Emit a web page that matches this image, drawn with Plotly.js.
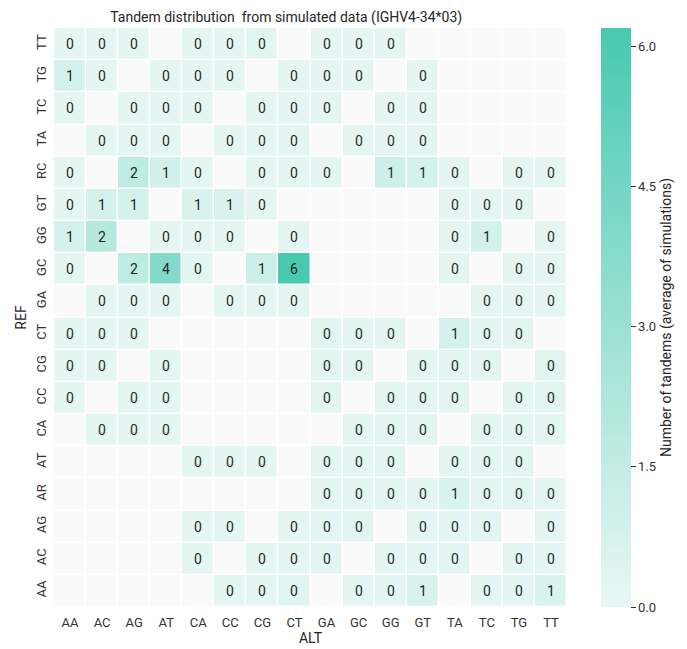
<!DOCTYPE html>
<html>
<head>
<meta charset="utf-8">
<script src="https://cdn.plot.ly/plotly-3.0.1.min.js"></script>
<style>html,body{margin:0;padding:0;background:#fff;}#chart{width:687px;height:649px;}</style>
</head>
<body>
<div id="chart"></div>
<script>
const altCats = ["AA","AC","AG","AT","CA","CC","CG","CT","GA","GC","GG","GT","TA","TC","TG","TT"];
const refCats = ["TT","TG","TC","TA","RC","GT","GG","GC","GA","CT","CG","CC","CA","AT","AR","AG","AC","AA"];
const n = null;
const rowTT = [0.2,0.2,0.2,n,0.2,0.2,0.3,n,0.2,0.2,0.2,n,n,n,n,n];
const rowTG = [0.8,0.2,n,0.2,0.2,0.2,n,0.2,0.2,0.2,n,0.2,n,n,n,n];
const rowTC = [0.2,n,0.2,0.2,0.2,n,0.2,0.2,0.2,n,0.2,0.2,n,n,n,n];
const rowTA = [n,0.2,0.2,0.2,n,0.2,0.2,0.2,n,0.2,0.2,0.2,n,n,n,n];
const rowRC = [0.2,n,1.6,0.9,0.2,n,0.2,0.2,0.2,n,1.1,0.8,0.2,n,0.2,0.2];
const rowGT = [0.2,0.8,0.8,n,0.7,0.7,0.2,n,n,n,n,n,0.2,0.2,0.2,n];
const rowGG = [0.8,2.0,n,0.2,0.2,0.2,n,0.2,n,n,n,n,0.2,0.9,n,0.2];
const rowGC = [0.2,n,1.6,3.9,0.3,n,1.2,6.2,n,n,n,n,0.2,n,0.2,0.2];
const rowGA = [n,0.2,0.2,0.2,n,0.2,0.2,0.2,n,n,n,n,n,0.2,0.2,0.2];
const rowCT = [0.2,0.2,0.2,n,n,n,n,n,0.3,0.2,0.2,n,0.8,0.2,0.2,n];
const rowCG = [0.2,0.2,n,0.2,n,n,n,n,0.3,0.2,n,0.2,0.2,0.2,n,0.3];
const rowCC = [0.2,n,0.2,0.2,n,n,n,n,0.2,n,0.2,0.2,0.2,n,0.2,0.3];
const rowCA = [n,0.2,0.2,0.2,n,n,n,n,n,0.2,0.2,0.2,n,0.2,0.2,0.2];
const rowAT = [n,n,n,n,0.2,0.2,0.2,n,0.2,0.2,0.2,n,0.2,0.2,0.2,n];
const rowAR = [n,n,n,n,n,n,n,n,0.2,0.2,0.2,0.2,0.6,0.2,0.3,0.2];
const rowAG = [n,n,n,n,0.2,0.2,n,0.2,0.2,0.3,n,0.2,0.2,0.2,n,0.2];
const rowAC = [n,n,n,n,0.2,n,0.2,0.2,0.2,n,0.2,0.2,0.2,n,0.2,0.2];
const rowAA = [n,n,n,n,n,0.2,0.2,0.3,n,0.2,0.2,0.7,n,0.2,0.2,0.6];
const cbTicks = [0, 1.5, 3.0, 4.5, 6.0];

const z = [rowTT,rowTG,rowTC,rowTA,rowRC,rowGT,rowGG,rowGC,rowGA,rowCT,rowCG,rowCC,rowCA,rowAT,rowAR,rowAG,rowAC,rowAA];
const txt = z.map(r => r.map(v => v === null ? "" : String(Math.round(v))));
const bg = refCats.map(() => altCats.map(() => 1));

const font = "Roboto, 'Open Sans', sans-serif";
const traces = [
  {type:"heatmap", x:altCats, y:refCats, z:bg, colorscale:[[0,"#fafafa"],[1,"#fafafa"]],
   showscale:false, xgap:1.5, ygap:1.5, hoverinfo:"skip"},
  {type:"heatmap", x:altCats, y:refCats, z:z, text:txt, texttemplate:"%{text}",
   textfont:{family:font, size:14, color:"#262626"},
   colorscale:[[0,"#e9f8f4"],[1,"#48c9b0"]], zmin:0, zmax:6.2,
   xgap:1.5, ygap:1.5, hoverongaps:false,
   colorbar:{x:1.066, xanchor:"left", xpad:0, ypad:0, y:0.5, yanchor:"middle", len:1, lenmode:"fraction",
     thickness:30, outlinewidth:0, tickvals:cbTicks, tickformat:".1f", ticksuffix:"\u00a0\u00a0", ticks:"outside", ticklen:5,
     tickcolor:"#333", tickfont:{family:font, size:13, color:"#333"},
     title:{text:"Number of tandems (average of simulations)", side:"right", font:{family:font, size:14, color:"#262626"}}}}
];
const layout = {
  width:687, height:649,
  margin:{l:54, r:118, t:28, b:42, pad:0},
  paper_bgcolor:"#ffffff", plot_bgcolor:"#ffffff",
  title:{text:"Tandem distribution  from simulated data (IGHV4-34*03)", xref:"paper", x:311/687, xanchor:"center",
    y:1-17/649, yanchor:"middle",
    font:{family:font, size:14, color:"#262626"}},
  xaxis:{type:"category", showgrid:false, zeroline:false, ticks:"", ticklen:0, ticklabelstandoff:6,
    tickfont:{family:font, size:13, color:"#333"},
    title:{text:"ALT", standoff:3, font:{family:font, size:14, color:"#262626"}}},
  yaxis:{type:"category", autorange:"reversed", showgrid:false, zeroline:false, ticks:"", tickangle:-90,
    ticklabelstandoff:4,
    tickfont:{family:font, size:13, color:"#333"},
    title:{text:"REF", standoff:4, font:{family:font, size:14, color:"#262626"}}}
};
Plotly.newPlot("chart", traces, layout, {displayModeBar:false, staticPlot:true});
</script>
</body>
</html>
